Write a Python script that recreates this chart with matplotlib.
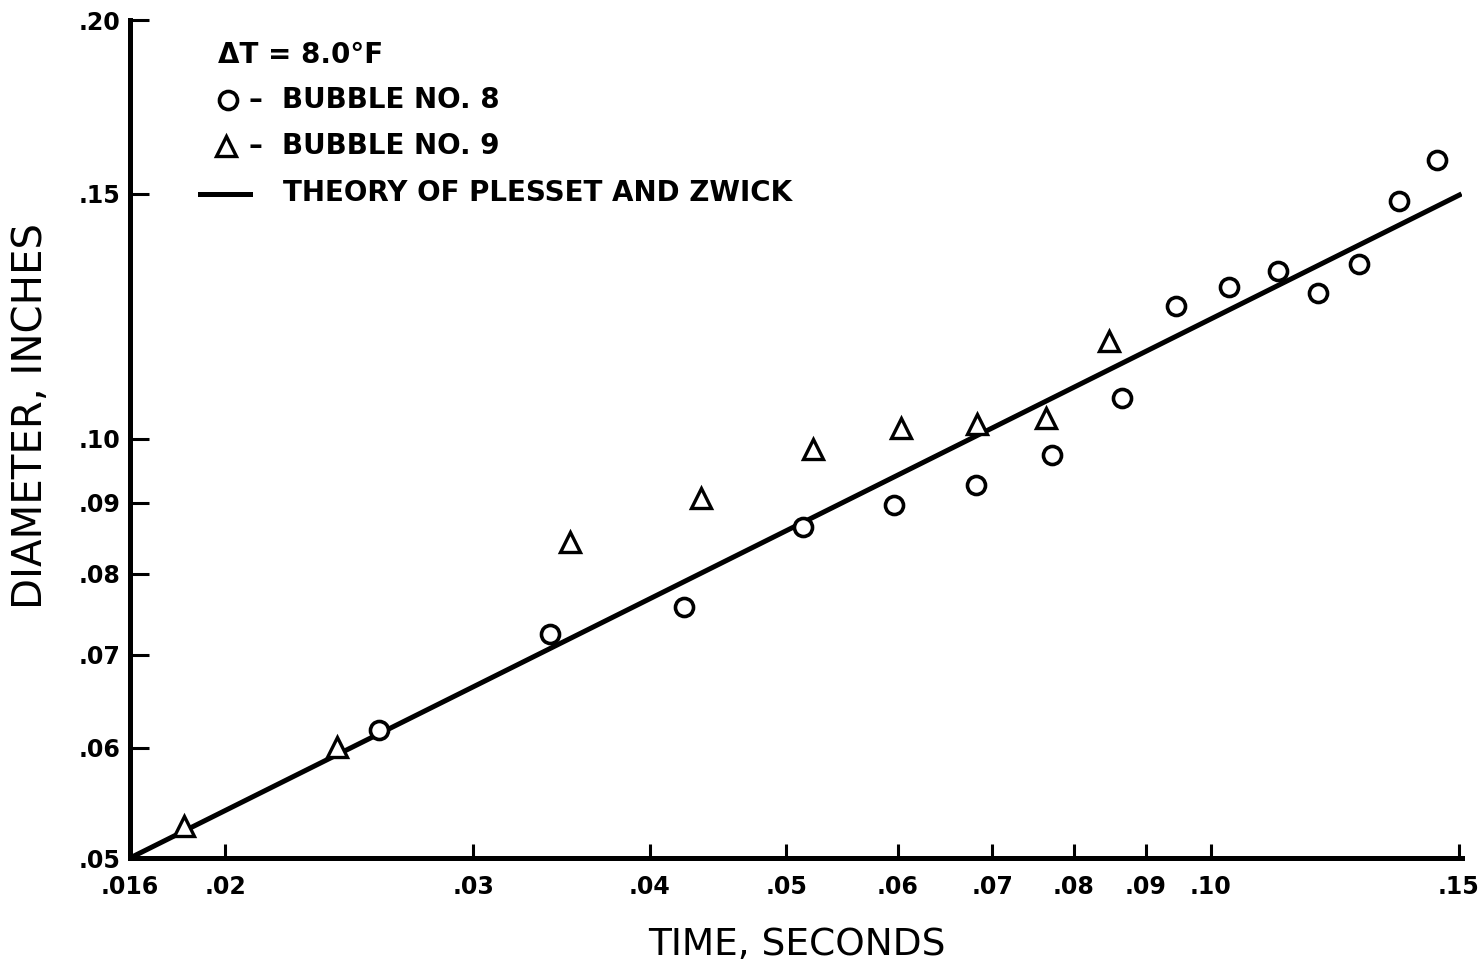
import matplotlib
matplotlib.use("Agg")
import matplotlib.pyplot as plt
from matplotlib.ticker import FixedLocator, FixedFormatter, NullLocator

# ---- data ----
bubble8_t = [0.0257, 0.0340, 0.0423, 0.0514, 0.0596, 0.0682, 0.0772, 0.0865,
             0.0945, 0.1031, 0.1116, 0.1192, 0.1274, 0.1360, 0.1447]
bubble8_d = [0.0618, 0.0724, 0.0757, 0.0864, 0.0897, 0.0927, 0.0974, 0.1070,
             0.1246, 0.1286, 0.1320, 0.1273, 0.1336, 0.1483, 0.1587]
bubble9_t = [0.0187, 0.0240, 0.0351, 0.0435, 0.0522, 0.0603, 0.0683, 0.0764, 0.0847]
bubble9_d = [0.0527, 0.0601, 0.0843, 0.0907, 0.0984, 0.1018, 0.1025, 0.1035, 0.1176]
theory_t = [0.01712, 0.1507]
theory_d = [0.0500, 0.1500]

x_ticks = [0.01712, 0.02, 0.03, 0.04, 0.05, 0.06, 0.07, 0.08, 0.09, 0.10, 0.15]
x_labels = [".016", ".02", ".03", ".04", ".05", ".06", ".07", ".08", ".09", ".10", ".15"]
y_ticks = [0.05, 0.06, 0.07, 0.08, 0.09, 0.10, 0.15, 0.20]
y_labels = [".05", ".06", ".07", ".08", ".09", ".10", ".15", ".20"]

W, H = 1480, 968
fig = plt.figure(figsize=(W / 100, H / 100), dpi=100)
plt.rcParams['font.family'] = ['DejaVu Sans']

L, R, B, T = 130, 1462, 858, 20
ax = fig.add_axes([L / W, (H - B) / H, (R - L) / W, (B - T) / H])
ax.set_xscale('log')
ax.set_yscale('log')
ax.set_xlim(0.01712, 0.1508)
ax.set_ylim(0.05, 0.20)

for s in ['top', 'right']:
    ax.spines[s].set_visible(False)
for s in ['left', 'bottom']:
    ax.spines[s].set_linewidth(3.6)
    ax.spines[s].set_capstyle('projecting')

ax.xaxis.set_major_locator(FixedLocator(x_ticks))
ax.xaxis.set_major_formatter(FixedFormatter(x_labels))
ax.yaxis.set_major_locator(FixedLocator(y_ticks))
ax.yaxis.set_major_formatter(FixedFormatter(y_labels))
ax.xaxis.set_minor_locator(NullLocator())
ax.yaxis.set_minor_locator(NullLocator())
ax.tick_params(axis='x', direction='in', length=10, width=2.2, labelsize=17, pad=12)
ax.tick_params(axis='y', direction='in', length=14, width=2.2, labelsize=17, pad=7)
for lab in ax.get_xticklabels() + ax.get_yticklabels():
    lab.set_fontweight('bold')

# theory line
ax.plot(theory_t, theory_d, color='black', lw=3.6, solid_capstyle='butt', zorder=2)
# data
ax.plot(bubble8_t, bubble8_d, linestyle='none', marker='o', ms=13, mew=2.6,
        mfc='white', mec='black', zorder=3, clip_on=False)
ax.plot(bubble9_t, bubble9_d, linestyle='none', marker='^', ms=14, mew=2.4,
        mfc='white', mec='black', zorder=3, clip_on=False)

# ---- legend block (manual, as in the original) ----
def axc(px, py):
    return ((px - L) / (R - L), (B - py) / (B - T))

fs_leg = 20
kw = dict(fontsize=fs_leg, fontweight='bold', va='center', ha='left', transform=ax.transAxes)
ax.text(*axc(218, 55), "ΔT = 8.0°F", **kw)
ax.plot(*[[v] for v in axc(228, 100)], marker='o', ms=13, mew=2.6, mfc='white',
        mec='black', transform=ax.transAxes, clip_on=False)
ax.text(*axc(249, 100), "–", **kw)
ax.text(*axc(282, 100), "BUBBLE NO. 8", **kw)
ax.plot(*[[v] for v in axc(226, 146)], marker='^', ms=14, mew=2.4, mfc='white',
        mec='black', transform=ax.transAxes, clip_on=False)
ax.text(*axc(249, 146), "–", **kw)
ax.text(*axc(282, 146), "BUBBLE NO. 9", **kw)
x0, y0 = axc(200, 194)
x1, _ = axc(250, 194)
ax.plot([x0, x1], [y0, y0], color='black', lw=3.6, transform=ax.transAxes, clip_on=False)
ax.text(*axc(283, 193), "THEORY OF PLESSET AND ZWICK", **kw)

# axis titles
fig.text(797 / W, 1 - 945 / H, "TIME, SECONDS", fontsize=27, ha='center', va='center')
fig.text(31 / W, 1 - 416 / H, "DIAMETER, INCHES", fontsize=29, ha='center', va='center',
         rotation=90)

fig.savefig("out.png", dpi=100)
